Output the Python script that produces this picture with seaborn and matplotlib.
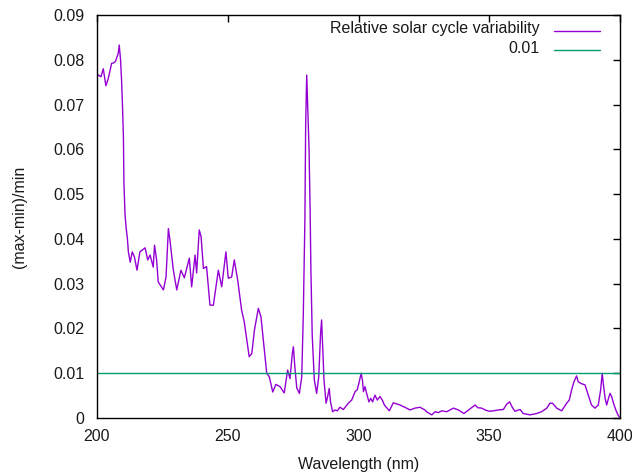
import matplotlib
matplotlib.use("Agg")
import matplotlib.pyplot as plt
import seaborn as sns
import pandas as pd
from matplotlib.ticker import FixedLocator, FixedFormatter

wavelength = [
    200.0, 201.5, 202.4, 203.4, 204.3, 205.6, 206.4, 207.1, 208.1, 208.5,
    209.0, 209.4, 209.7, 210.1, 210.3, 210.7, 211.1, 211.6, 212.0, 212.7,
    213.5, 214.3, 215.3, 216.4, 218.4, 219.4, 220.3, 221.5, 222.0, 222.8,
    223.4, 225.4, 226.4, 227.3, 227.9, 229.2, 230.5, 232.1, 233.4, 235.3,
    236.2, 237.5, 238.1, 239.1, 239.8, 240.7, 241.9, 243.2, 244.5, 246.4,
    247.7, 249.3, 250.2, 251.5, 252.5, 253.8, 255.3, 256.3, 258.2, 259.2,
    260.2, 261.7, 262.7, 263.6, 264.9, 265.9, 267.2, 268.4, 270.0, 271.6,
    272.9, 273.8, 274.7, 275.1, 275.7, 276.4, 277.4, 278.3, 278.9, 279.5,
    279.8, 280.2, 280.5, 281.1, 281.5, 281.8, 282.3, 283.1, 284.0, 284.8,
    285.5, 285.9, 286.3, 286.8, 287.6, 288.2, 288.8, 289.3, 290.1, 291.0,
    291.9, 292.9, 294.2, 296.1, 297.4, 298.7, 299.5, 300.3, 301.0, 301.5,
    301.9, 302.5, 303.1, 304.0, 304.7, 305.4, 306.3, 307.2, 308.2, 309.1,
    309.9, 311.8, 313.3, 315.9, 318.4, 319.7, 321.6, 323.5, 325.4, 326.0,
    327.1, 328.0, 329.3, 330.5, 331.8, 333.7, 336.3, 338.2, 340.3, 342.6,
    344.6, 345.6, 347.1, 348.4, 350.0, 351.6, 353.5, 355.4, 356.7, 357.8,
    358.8, 359.8, 361.8, 363.0, 365.6, 368.1, 370.0, 372.0, 373.2, 374.2,
    375.8, 377.7, 379.6, 380.6, 381.5, 382.4, 383.4, 384.0, 385.1, 386.6,
    387.9, 389.1, 390.4, 391.7, 392.6, 393.2, 393.6, 394.3, 394.9, 395.6,
    396.2, 396.8, 397.5, 398.4, 399.2, 399.8,
]
variability = [
    0.0768, 0.0762, 0.0780, 0.0742, 0.0758, 0.0792, 0.0793, 0.0797, 0.0814, 0.0833,
    0.0800, 0.0754, 0.0706, 0.0628, 0.0524, 0.0457, 0.0427, 0.0402, 0.0371, 0.0348,
    0.0371, 0.0360, 0.0330, 0.0371, 0.0380, 0.0353, 0.0364, 0.0337, 0.0386, 0.0353,
    0.0304, 0.0286, 0.0315, 0.0423, 0.0397, 0.0330, 0.0286, 0.0330, 0.0313, 0.0357,
    0.0293, 0.0364, 0.0324, 0.0420, 0.0405, 0.0334, 0.0338, 0.0252, 0.0252, 0.0330,
    0.0293, 0.0371, 0.0312, 0.0315, 0.0353, 0.0308, 0.0241, 0.0215, 0.0137, 0.0144,
    0.0196, 0.0245, 0.0226, 0.0174, 0.0100, 0.0092, 0.0058, 0.0075, 0.0070, 0.0056,
    0.0107, 0.0088, 0.0144, 0.0159, 0.0111, 0.0067, 0.0055, 0.0092, 0.0234, 0.0442,
    0.0658, 0.0766, 0.0710, 0.0598, 0.0464, 0.0330, 0.0185, 0.0085, 0.0055, 0.0092,
    0.0189, 0.0219, 0.0159, 0.0085, 0.0033, 0.0048, 0.0066, 0.0036, 0.0014, 0.0018,
    0.0016, 0.0024, 0.0019, 0.0033, 0.0040, 0.0059, 0.0063, 0.0081, 0.0100, 0.0085,
    0.0059, 0.0070, 0.0055, 0.0036, 0.0044, 0.0036, 0.0051, 0.0040, 0.0048, 0.0040,
    0.0029, 0.0016, 0.0034, 0.0029, 0.0022, 0.0018, 0.0022, 0.0024, 0.0018, 0.0014,
    0.0010, 0.0007, 0.0014, 0.0012, 0.0016, 0.0014, 0.0022, 0.0018, 0.0010, 0.0020,
    0.0029, 0.0023, 0.0022, 0.0018, 0.0015, 0.0016, 0.0018, 0.0019, 0.0031, 0.0036,
    0.0024, 0.0015, 0.0019, 0.0010, 0.0007, 0.0010, 0.0014, 0.0022, 0.0033, 0.0033,
    0.0022, 0.0016, 0.0033, 0.0040, 0.0063, 0.0081, 0.0094, 0.0081, 0.0077, 0.0074,
    0.0051, 0.0029, 0.0022, 0.0029, 0.0063, 0.0100, 0.0077, 0.0044, 0.0029, 0.0044,
    0.0055, 0.0048, 0.0033, 0.0018, 0.0007, 0.0002,
]
threshold_x = [200, 400]
threshold_y = [0.01, 0.01]

x_ticks = [200, 250, 300, 350, 400]
x_tick_labels = ["200", "250", "300", "350", "400"]
y_ticks = [0, 0.01, 0.02, 0.03, 0.04, 0.05, 0.06, 0.07, 0.08, 0.09]
y_tick_labels = ["0", "0.01", "0.02", "0.03", "0.04", "0.05", "0.06", "0.07", "0.08", "0.09"]

series_labels = ["Relative solar cycle variability", "0.01"]
series_colors = ["#9400D3", "#009E73"]

sns.set_theme(style="white")
plt.rcParams["font.family"] = ["Liberation Sans", "DejaVu Sans"]
plt.rcParams["font.size"] = 11.5

df = pd.DataFrame({"wavelength": wavelength, "variability": variability})
df_thr = pd.DataFrame({"wavelength": threshold_x, "variability": threshold_y})

fig = plt.figure(figsize=(6.32, 4.74), dpi=100)
ax = fig.add_axes([97 / 632, 1 - 418 / 474, (620 - 97) / 632, (418 - 15) / 474])

sns.lineplot(data=df, x="wavelength", y="variability", ax=ax, color=series_colors[0],
             linewidth=1.0, estimator=None, sort=False)
sns.lineplot(data=df_thr, x="wavelength", y="variability", ax=ax, color=series_colors[1],
             linewidth=1.0, estimator=None, sort=False)

ax.set_xlim(200, 400)
ax.set_ylim(0, 0.09)
ax.xaxis.set_major_locator(FixedLocator(x_ticks))
ax.xaxis.set_major_formatter(FixedFormatter(x_tick_labels))
ax.yaxis.set_major_locator(FixedLocator(y_ticks))
ax.yaxis.set_major_formatter(FixedFormatter(y_tick_labels))
ax.tick_params(axis="both", direction="in", length=5, width=1, color="black",
               top=True, right=True, labelsize=11.5, labelcolor="#1a1a1a", pad=9)
ax.tick_params(axis="x", pad=8)
for sp in ax.spines.values():
    sp.set_visible(True)
    sp.set_color("black")
    sp.set_linewidth(1.0)

ax.set_xlabel("Wavelength (nm)", fontsize=11.5, color="#1a1a1a", labelpad=9)
ax.set_ylabel("(max-min)/min", fontsize=11.5, color="#1a1a1a", labelpad=19)

# key (legend) in gnuplot style: right-aligned labels, sample line to the right
key_rows_y = [0.9665, 0.9180]
for lab, col, ky in zip(series_labels, series_colors, key_rows_y):
    ax.text(0.846, ky, lab, transform=ax.transAxes, ha="right", va="center",
            fontsize=11.5, color="#1a1a1a")
    ax.plot([0.874, 0.961], [ky - 0.005, ky - 0.005], transform=ax.transAxes,
            color=col, linewidth=1.0)

fig.savefig("out.png", dpi=100)
